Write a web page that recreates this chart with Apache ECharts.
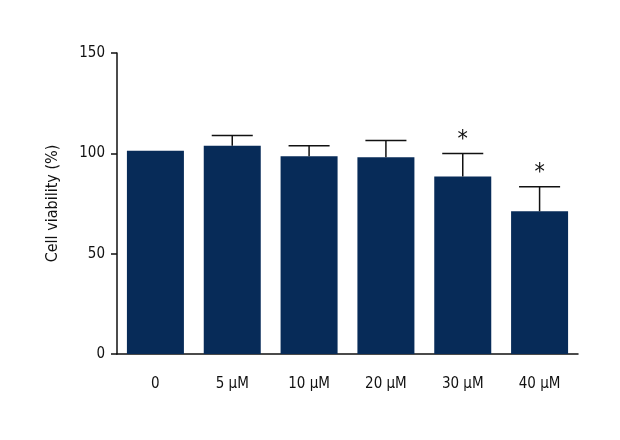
<!DOCTYPE html>
<html>
<head>
<meta charset="utf-8">
<script src="https://cdn.jsdelivr.net/npm/echarts@6/dist/echarts.min.js"></script>
<style>
html,body{margin:0;padding:0;background:#fff;}
#chart{width:620px;height:440px;}
</style>
</head>
<body>
<div id="chart"></div>
<script>
var categories = ['0', '5 µM', '10 µM', '20 µM', '30 µM', '40 µM'];
var meanValues = [101.3, 103.8, 98.5, 98.0, 88.5, 71.1];
var errorTops = [101.3, 108.9, 103.8, 106.4, 99.9, 83.4];
var significance = ['', '', '', '', '*', '*'];
var yTicks = [0, 50, 100, 150];

var FONT = '"DejaVu Sans Condensed", "Liberation Sans Narrow", sans-serif';
var chart = echarts.init(document.getElementById('chart'));

var errData = categories.map(function (c, i) {
  return [i, meanValues[i], errorTops[i], significance[i]];
});

chart.setOption({
  animation: false,
  backgroundColor: '#ffffff',
  grid: { left: 117, right: 42, top: 53, bottom: 86 },
  xAxis: {
    type: 'category',
    data: categories,
    axisLine: { lineStyle: { color: '#111', width: 1.5 } },
    axisTick: { alignWithLabel: true, length: 6, lineStyle: { color: '#111', width: 1.5 } },
    axisLabel: { color: '#111', fontSize: 15, fontFamily: FONT, margin: 23 }
  },
  yAxis: {
    type: 'value',
    min: yTicks[0],
    max: yTicks[yTicks.length - 1],
    interval: yTicks[1] - yTicks[0],
    name: 'Cell viability (%)',
    nameLocation: 'middle',
    nameGap: 56,
    nameTextStyle: { color: '#111', fontSize: 16, fontFamily: FONT },
    axisLine: { show: true, lineStyle: { color: '#111', width: 1.5 } },
    axisTick: { show: true, length: 6, lineStyle: { color: '#111', width: 1.5 } },
    axisLabel: { color: '#111', fontSize: 15, fontFamily: FONT, margin: 12 },
    splitLine: { show: false }
  },
  series: [
    {
      type: 'bar',
      data: meanValues,
      barWidth: 57,
      itemStyle: { color: '#072b58' },
      z: 2
    },
    {
      type: 'custom',
      data: errData,
      z: 3,
      renderItem: function (params, api) {
        var idx = api.value(0);
        var base = api.coord([idx, api.value(1)]);
        var top = api.coord([idx, api.value(2)]);
        var band = api.size([1, 0])[0];
        var half = band * 0.267;
        var children = [];
        if (api.value(2) > api.value(1)) {
          children.push({
            type: 'line',
            shape: { x1: base[0], y1: base[1], x2: top[0], y2: top[1] },
            style: { stroke: '#111', lineWidth: 1.5 }
          });
          children.push({
            type: 'line',
            shape: { x1: top[0] - half, y1: top[1], x2: top[0] + half, y2: top[1] },
            style: { stroke: '#111', lineWidth: 1.5 }
          });
        }
        var sig = significance[idx];
        if (sig) {
          children.push({
            type: 'text',
            style: {
              text: sig,
              x: top[0],
              y: top[1] - 14,
              align: 'center',
              verticalAlign: 'middle',
              fill: '#111',
              font: '23px ' + FONT
            }
          });
        }
        return { type: 'group', children: children };
      }
    }
  ]
});
</script>
</body>
</html>
